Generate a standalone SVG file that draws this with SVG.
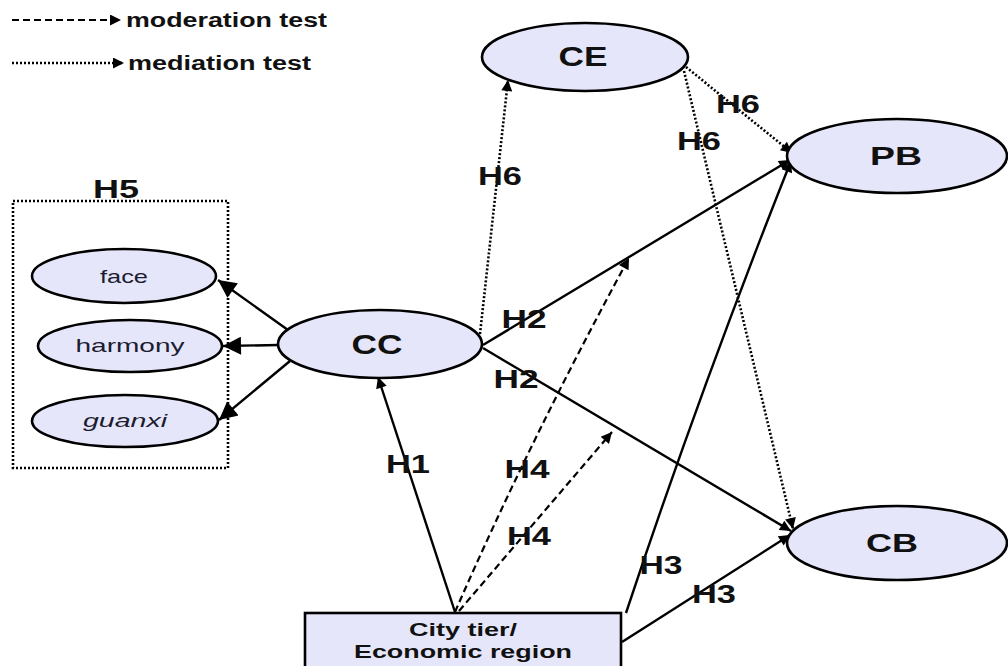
<svg xmlns="http://www.w3.org/2000/svg" width="1008" height="666" viewBox="0 0 1008 666">
  <style>
    .node { fill: #e6e6fa; stroke: #000; stroke-width: 2.6; }
    text { font-family: "Liberation Sans", Arial, sans-serif; text-anchor: middle; }
    .lbl { font-weight: bold; fill: #111; }
    .sm { fill: #1c1c30; }
    .h { font-weight: bold; font-size: 26px; fill: #111; }
    .solid { fill: none; stroke: #000; stroke-width: 2.4; }
    .dash { fill: none; stroke: #000; stroke-width: 2.2; stroke-dasharray: 7 4; }
    .dot { fill: none; stroke: #000; stroke-width: 2.6; stroke-dasharray: 2 2; }
  </style>
  <defs>
    <marker id="big" viewBox="0 0 10 10" refX="10" refY="5" markerWidth="24" markerHeight="18" markerUnits="userSpaceOnUse" orient="auto">
      <path d="M0,0 L10,5 L0,10 z" fill="#000"/>
    </marker>
    <marker id="mid" viewBox="0 0 10 10" refX="10" refY="5" markerWidth="14" markerHeight="11" markerUnits="userSpaceOnUse" orient="auto">
      <path d="M0,0 L10,5 L0,10 z" fill="#000"/>
    </marker>
  </defs>

  <rect width="1008" height="666" fill="#fff"/>

  <!-- legend -->
  <g id="legend">
    <line x1="12" y1="20" x2="121" y2="20" class="dash" marker-end="url(#mid)"/>
    <text x="126" y="27" class="lbl" font-size="20" style="text-anchor:start" textLength="201" lengthAdjust="spacingAndGlyphs">moderation test</text>
    <line x1="12" y1="63" x2="124" y2="63" class="dot" marker-end="url(#mid)"/>
    <text x="128" y="70" class="lbl" font-size="20" style="text-anchor:start" textLength="183" lengthAdjust="spacingAndGlyphs">mediation test</text>
  </g>

  <!-- connectors -->
  <g id="connectors">
    <line x1="288" y1="330" x2="218" y2="280" class="solid" marker-end="url(#big)"/>
    <line x1="279" y1="345" x2="223" y2="346" class="solid" marker-end="url(#big)"/>
    <line x1="290" y1="361" x2="219" y2="420" class="solid" marker-end="url(#big)"/>
    <line x1="455" y1="612" x2="378" y2="377" class="solid" marker-end="url(#mid)"/>
    <line x1="480" y1="334" x2="508" y2="80" class="dot" marker-end="url(#mid)"/>
    <line x1="483" y1="345" x2="790" y2="160" class="solid" marker-end="url(#mid)"/>
    <line x1="483" y1="348" x2="791" y2="531" class="solid" marker-end="url(#mid)"/>
    <path d="M455,612 Q530,440 629,258" class="dash" marker-end="url(#mid)"/>
    <line x1="459" y1="611" x2="612" y2="432" class="dash" marker-end="url(#mid)"/>
    <path d="M626,613 Q700,390 791,161" class="solid" marker-end="url(#mid)"/>
    <line x1="622" y1="642" x2="790" y2="535" class="solid" marker-end="url(#mid)"/>
    <line x1="686" y1="67" x2="792" y2="153" class="dot" marker-end="url(#mid)"/>
    <line x1="684" y1="71" x2="793" y2="529" class="dot" marker-end="url(#mid)"/>
  </g>

  <!-- dimensions of CC -->
  <rect x="13" y="201" width="215" height="267" fill="none" stroke="#000" stroke-width="2.6" stroke-dasharray="2 2"/>
  <text x="116" y="198" class="h" textLength="46" lengthAdjust="spacingAndGlyphs">H5</text>

  <g id="face">
    <ellipse cx="124" cy="276" rx="92" ry="27" class="node"/>
    <text x="124" y="283" class="sm" font-size="19" textLength="48" lengthAdjust="spacingAndGlyphs">face</text>
  </g>
  <g id="harmony">
    <ellipse cx="130" cy="346" rx="92" ry="26" class="node"/>
    <text x="130" y="352" class="sm" font-size="19" textLength="109" lengthAdjust="spacingAndGlyphs">harmony</text>
  </g>
  <g id="guanxi">
    <ellipse cx="125" cy="421" rx="93" ry="26" class="node"/>
    <text x="125" y="427" class="sm" font-size="19" font-style="italic" textLength="84" lengthAdjust="spacingAndGlyphs">guanxi</text>
  </g>
  <g id="CC">
    <ellipse cx="380" cy="344" rx="102" ry="34" class="node"/>
    <text x="377" y="354" class="lbl" font-size="28" textLength="51" lengthAdjust="spacingAndGlyphs">CC</text>
  </g>
  <g id="CE">
    <ellipse cx="585" cy="57" rx="103" ry="34" class="node"/>
    <text x="583" y="66" class="lbl" font-size="27" textLength="49" lengthAdjust="spacingAndGlyphs">CE</text>
  </g>
  <g id="PB">
    <ellipse cx="897" cy="156" rx="110" ry="37" class="node"/>
    <text x="896" y="165" class="lbl" font-size="26" textLength="52" lengthAdjust="spacingAndGlyphs">PB</text>
  </g>
  <g id="CB">
    <ellipse cx="897" cy="543" rx="110" ry="37" class="node"/>
    <text x="892" y="552" class="lbl" font-size="26" textLength="52" lengthAdjust="spacingAndGlyphs">CB</text>
  </g>
  <g id="city">
    <rect x="305" y="613" width="316" height="60" fill="#e6e6fa" stroke="#000" stroke-width="2.6"/>
    <text x="463" y="636" class="lbl" font-size="19" textLength="108" lengthAdjust="spacingAndGlyphs">City tier/</text>
    <text x="463" y="658" class="lbl" font-size="19" textLength="218" lengthAdjust="spacingAndGlyphs">Economic region</text>
  </g>

  <!-- hypothesis labels -->
  <g id="labels">
    <text x="500" y="185" class="h" textLength="44" lengthAdjust="spacingAndGlyphs">H6</text>
    <text x="738" y="113" class="h" textLength="44" lengthAdjust="spacingAndGlyphs">H6</text>
    <text x="699" y="150" class="h" textLength="44" lengthAdjust="spacingAndGlyphs">H6</text>
    <text x="524" y="328" class="h" textLength="45" lengthAdjust="spacingAndGlyphs">H2</text>
    <text x="516" y="388" class="h" textLength="45" lengthAdjust="spacingAndGlyphs">H2</text>
    <text x="408" y="473" class="h" textLength="44" lengthAdjust="spacingAndGlyphs">H1</text>
    <text x="527" y="478" class="h" textLength="45" lengthAdjust="spacingAndGlyphs">H4</text>
    <text x="529" y="545" class="h" textLength="44" lengthAdjust="spacingAndGlyphs">H4</text>
    <text x="661" y="574" class="h" textLength="43" lengthAdjust="spacingAndGlyphs">H3</text>
    <text x="714" y="603" class="h" textLength="44" lengthAdjust="spacingAndGlyphs">H3</text>
  </g>
</svg>
